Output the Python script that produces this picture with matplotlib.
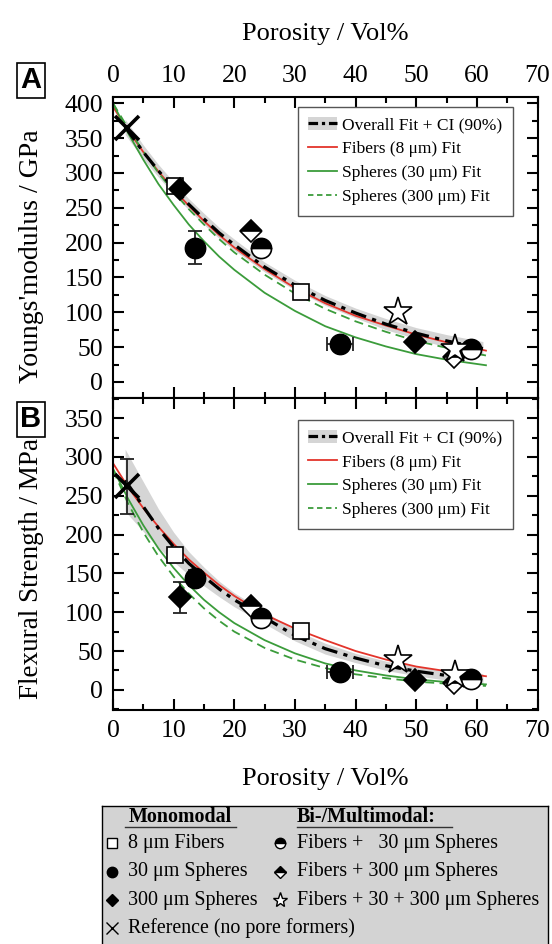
import matplotlib.pyplot as plt
from matplotlib.patches import Patch
from matplotlib.lines import Line2D
from matplotlib.ticker import MultipleLocator

plt.rcParams['font.family'] = ['Liberation Serif', 'DejaVu Serif']

# ---- measured points (porosity in vol%) ----
fib8_por = [10.2, 31.0]
fib8_E = [281, 129]
fib8_S = [174, 76]

sph30_por = [13.5, 37.4]
sph30_E = [193, 55]
sph30_S = [144, 23]
sph30_por_err = [0, 2.1]
sph30_E_err = [23, 0]
sph30_S_err = [10, 0]

sph300_por = [11.1, 49.8]
sph300_E = [277, 58]
sph300_S = [119, 13]
sph300_S_err = [20, 0]

fib_sph30_por = [24.4, 59.0]
fib_sph30_E = [193, 47]
fib_sph30_S = [92, 14]

fib_sph300_por = [22.8, 56.2]
fib_sph300_E = [217, 36]
fib_sph300_S = [108, 9]

fib_mix_por = [47.0, 56.4]
fib_mix_E = [100, 48]
fib_mix_S = [38, 19]

ref_por = [2.3]
ref_E = [365]
ref_S = [262]
ref_S_err = [35]

# ---- fit curves ----
fit_por = [0, 2.5, 5, 7.5, 10, 12.5, 15, 17.5, 20, 25, 30, 35, 40, 45, 50, 55, 61.5]
E_fit_fib = [395, 361, 330, 302, 276, 253, 231, 211, 193, 162, 135, 113, 95, 81, 68, 57, 45]
E_fit_sph30 = [400, 357, 319, 284, 254, 226, 202, 180, 161, 128, 102, 80, 64, 51, 40, 32, 24]
E_fit_sph300 = [400, 364, 331, 300, 273, 248, 226, 205, 186, 154, 127, 105, 87, 72, 59, 49, 38]
S_fit_fib = [292, 261, 234, 210, 188, 168, 151, 135, 121, 97, 79, 64, 50, 39, 30, 24, 17.5]
S_fit_sph30 = [285, 246, 212, 182, 157, 135, 116, 100, 86, 64, 47, 34, 25, 18.5, 13.5, 10, 7]
S_fit_sph300 = [283, 240, 203, 172, 146, 124, 105, 89, 75, 54, 39, 28, 20, 15, 10.5, 8, 5]

all_por = [2, 5, 7.5, 10, 12.5, 15, 17.5, 20, 25, 30, 35, 40, 45, 50, 55, 61]
E_fit_all = [366, 330, 303, 278, 255, 234, 214, 197, 165, 139, 117, 99, 83, 70, 59, 48]
E_ci = [11, 10, 9, 9, 8, 8, 8, 8, 7, 7, 7, 7, 8, 8, 9, 10]
S_fit_all = [270, 236, 208, 184, 163, 146, 130, 116, 93, 70, 53, 41, 31, 24, 18.5, 14]
S_ci = [40, 32, 25, 19, 15, 12, 10, 9, 8, 7, 7, 6, 6, 6, 6, 7]

RED = '#e3342b'
GREEN = '#3b9c3b'
BAND = '#d5d5d5'

fig = plt.figure(figsize=(5.52, 9.44), dpi=100)
axA = fig.add_axes([113 / 552, 1 - 398 / 944, 424.5 / 552, 301 / 944])
axB = fig.add_axes([113 / 552, 1 - 710 / 944, 424.5 / 552, 312 / 944])

sq = dict(marker='s', ms=12, mfc='white', mec='black', mew=1.2)
circ = dict(marker='o', ms=14.5, mfc='black', mec='black', mew=1.2)
dia = dict(marker='D', ms=11, mfc='black', mec='black', mew=1.2)
hcirc = dict(marker='o', ms=14.5, mfc='black', mfcalt='white', fillstyle='top', mec='black', mew=1.2)
hdia = dict(marker='D', ms=11, mfc='black', mfcalt='white', fillstyle='top', mec='black', mew=1.2)
star = dict(marker='*', ms=21, mfc='white', mec='black', mew=1.2)
cross = dict(marker='x', ms=17, mec='black', mew=2.6)


def err(ax, x, y, xe=None, ye=None):
    n = len(x)
    xe = xe or [0] * n
    ye = ye or [0] * n
    for i in range(n):
        if xe[i] or ye[i]:
            ax.errorbar(x[i], y[i], xerr=xe[i] or None, yerr=ye[i] or None,
                        fmt='none', ecolor='#222222', elinewidth=1.3,
                        capsize=5, capthick=1.3, zorder=4)


def panel(ax, fib, s30, s300, fall, ci, pts):
    lo = [v - c for v, c in zip(fall, ci)]
    hi = [v + c for v, c in zip(fall, ci)]
    ax.fill_between(all_por, lo, hi, color=BAND, lw=0, zorder=1)
    ax.plot(fit_por, fib, color=RED, lw=1.3, zorder=2)
    ax.plot(fit_por, s30, color=GREEN, lw=1.3, zorder=2)
    ax.plot(fit_por, s300, color=GREEN, lw=1.3, dashes=(5, 3), zorder=2)
    ax.plot(all_por, fall, color='black', lw=2.3, dashes=(5, 2, 1.3, 2), zorder=3)
    for x, y, st in pts:
        ax.plot(x, y, ls='none', zorder=5, **st)

    ax.set_xlim(0, 70)
    ax.xaxis.set_major_locator(MultipleLocator(10))
    ax.xaxis.set_minor_locator(MultipleLocator(5))
    ax.yaxis.set_major_locator(MultipleLocator(50))
    ax.yaxis.set_minor_locator(MultipleLocator(25))
    ax.tick_params(which='both', direction='in', top=True, right=True,
                   width=1.5, labelsize=18.5)
    ax.tick_params(which='major', length=8, pad=7)
    ax.tick_params(which='minor', length=4.5)
    for s in ax.spines.values():
        s.set_linewidth(1.5)

    h_all = (Patch(facecolor=BAND, edgecolor='none'),
             Line2D([], [], color='black', lw=2.3, dashes=(3, 1.2, 1, 1.2)))
    handles = [h_all,
               Line2D([], [], color=RED, lw=1.3),
               Line2D([], [], color=GREEN, lw=1.3),
               Line2D([], [], color=GREEN, lw=1.3, dashes=(3, 2))]
    labels = ['Overall Fit + CI (90%)', 'Fibers (8 μm) Fit',
              'Spheres (30 μm) Fit', 'Spheres (300 μm) Fit']
    return handles, labels


ptsA = [(fib8_por, fib8_E, sq), (sph30_por, sph30_E, circ), (sph300_por, sph300_E, dia),
        (fib_sph300_por, fib_sph300_E, hdia), (fib_sph30_por, fib_sph30_E, hcirc),
        (fib_mix_por, fib_mix_E, star), (ref_por, ref_E, cross)]
ptsB = [(fib8_por, fib8_S, sq), (sph30_por, sph30_S, circ), (sph300_por, sph300_S, dia),
        (fib_sph300_por, fib_sph300_S, hdia), (fib_sph30_por, fib_sph30_S, hcirc),
        (fib_mix_por, fib_mix_S, star), (ref_por, ref_S, cross)]

err(axA, sph30_por, sph30_E, sph30_por_err, sph30_E_err)
err(axB, sph30_por, sph30_S, sph30_por_err, sph30_S_err)
err(axB, sph300_por, sph300_S, None, sph300_S_err)
err(axB, ref_por, ref_S, None, ref_S_err)

hA, lA = panel(axA, E_fit_fib, E_fit_sph30, E_fit_sph300, E_fit_all, E_ci, ptsA)
hB, lB = panel(axB, S_fit_fib, S_fit_sph30, S_fit_sph300, S_fit_all, S_ci, ptsB)

axA.set_ylim(-23, 409)
axB.set_ylim(-26, 376)
axA.tick_params(labeltop=True, labelbottom=False)
axA.xaxis.set_label_position('top')
axA.set_xlabel('Porosity / Vol%', fontsize=19, labelpad=18)
axB.set_xlabel('Porosity / Vol%', fontsize=19, labelpad=19)
axA.set_ylabel("Youngs'modulus / GPa", fontsize=20)
axB.set_ylabel('Flexural Strength / MPa', fontsize=19.5)
axA.yaxis.set_label_coords(-0.163, 0.47)
axB.yaxis.set_label_coords(-0.163, 0.455)

leg_kw = dict(loc='upper right', fontsize=12.5, frameon=True, fancybox=False,
              edgecolor='#555555', framealpha=1, borderaxespad=0,
              handlelength=1.65, handletextpad=0.3, labelspacing=0.45, borderpad=0.6)
lg = axA.legend(hA, lA, bbox_to_anchor=(0.942, 0.967), **leg_kw)
lg.get_frame().set_linewidth(1.0)
lg = axB.legend(hB, lB, bbox_to_anchor=(0.942, 0.9295), **leg_kw)
lg.get_frame().set_linewidth(1.0)

for lab, y in [('A', 80), ('B', 419)]:
    fig.text(31 / 552, 1 - y / 944, lab, fontsize=21, fontweight='bold',
             family='Liberation Sans', ha='center', va='center',
             bbox=dict(boxstyle='square,pad=0.12', fc='white', ec='black', lw=1.2))

# ---- symbol key below the panels ----
key = fig.add_axes([101.7 / 552, 0, 446.3 / 552, 138 / 944])
key.set_facecolor('#d3d3d3')
key.set_xlim(101.7, 548)
key.set_ylim(944, 806)
key.set_xticks([])
key.set_yticks([])
for s in key.spines.values():
    s.set_linewidth(1.0)
key.spines['bottom'].set_visible(False)

kfs = 14.4
key.text(180.4, 817.5, 'Monomodal', fontsize=kfs, fontweight='bold', ha='center', va='center')
key.plot([125, 235.7], [826.7, 826.7], color='#333333', lw=1)
key.text(296.7, 817.5, 'Bi-/Multimodal:', fontsize=kfs, fontweight='bold', ha='left', va='center')
key.plot([296.7, 451.7], [826.7, 826.7], color='#333333', lw=1)

small = dict(ms=7.5, mew=1)
col1 = [(dict(marker='s', mfc='white', mec='black'), '8 μm Fibers'),
        (dict(marker='o', mfc='black', mec='black'), '30 μm Spheres'),
        (dict(marker='D', mfc='black', mec='black', ms=6.5), '300 μm Spheres'),
        (dict(marker='x', mec='black', ms=9), 'Reference (no pore formers)')]
col2 = [(dict(marker='o', mfc='black', mfcalt='white', fillstyle='top', mec='black'),
         'Fibers +   30 μm Spheres'),
        (dict(marker='D', mfc='black', mfcalt='white', fillstyle='top', mec='black', ms=6.5),
         'Fibers + 300 μm Spheres'),
        (dict(marker='*', mfc='white', mec='black', ms=11), 'Fibers + 30 + 300 μm Spheres')]
rows = [843.3, 871.7, 900, 928]
for (st, txt), y in zip(col1, rows):
    kw = dict(small)
    kw.update(st)
    key.plot([111.7], [y], ls='none', **kw)
    key.text(128, y, txt, fontsize=kfs, ha='left', va='center')
for (st, txt), y in zip(col2, rows):
    kw = dict(small)
    kw.update(st)
    key.plot([280], [y], ls='none', **kw)
    key.text(296.7, y, txt, fontsize=kfs, ha='left', va='center')

fig.savefig('out.png', dpi=100)
